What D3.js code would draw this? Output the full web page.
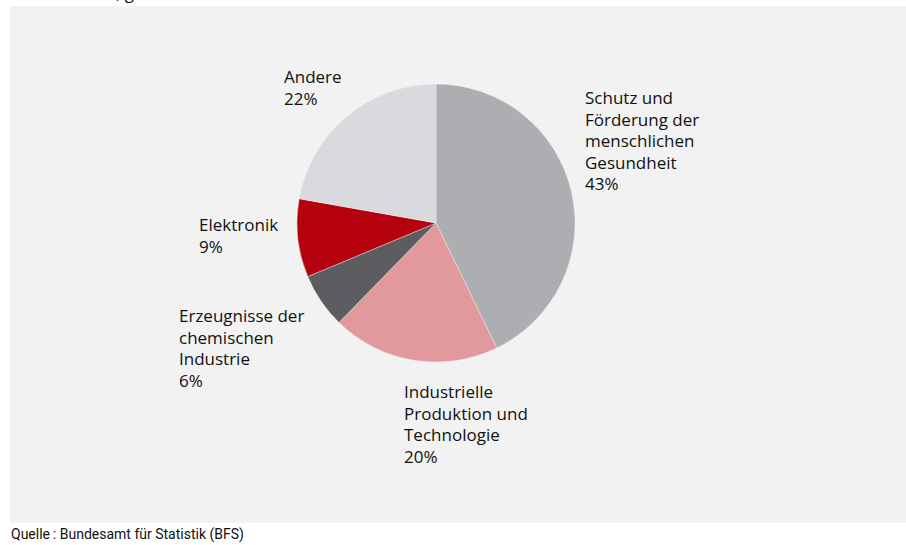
<!DOCTYPE html>
<html>
<head>
<meta charset="utf-8">
<script src="https://cdn.jsdelivr.net/npm/d3@7"></script>
<style>
  body { margin: 0; background: #fff; }
  svg { display: block; }
  .lbl { font-family: "Open Sans", sans-serif; font-size: 17px; fill: #111; }
  .src { font-family: Roboto, sans-serif; font-size: 14px; fill: #111; }
</style>
</head>
<body>
<svg width="906" height="545"></svg>
<script>
// slices, clockwise from 12 o'clock
var categories = ["Schutz und Förderung der menschlichen Gesundheit",
                  "Industrielle Produktion und Technologie",
                  "Erzeugnisse der chemischen Industrie",
                  "Elektronik",
                  "Andere"];
var labelLines = [["Schutz und", "Förderung der", "menschlichen", "Gesundheit"],
                  ["Industrielle", "Produktion und", "Technologie"],
                  ["Erzeugnisse der", "chemischen", "Industrie"],
                  ["Elektronik"],
                  ["Andere"]];
var shares = [42.8, 19.5, 6.4, 9.1, 22.2];
var colours = ["#adaeb1", "#e2999d", "#5d5c61", "#b5000e", "#d9dadd"];

// where each label block starts (left, first baseline)
var labelAt = [[585, 104], [404, 398], [179, 322], [199, 231], [284, 83]];

var svg = d3.select("svg"),
    width = +svg.attr("width"),
    height = +svg.attr("height");

var cx = 436, cy = 223, r = 139;

svg.append("rect")
    .attr("x", 10).attr("y", 6)
    .attr("width", width - 10).attr("height", 517)
    .attr("fill", "#f2f2f2");

// title is cut off at the top of the picture
svg.append("text")
    .attr("class", "lbl")
    .attr("x", 35).attr("y", -1)
    .text("In Prozent, gerundete Werte");

var pie = d3.pie().sort(null).value(function(d) { return d; });
var arc = d3.arc().innerRadius(0).outerRadius(r);

var g = svg.append("g").attr("transform", "translate(" + cx + "," + cy + ")");

g.selectAll("path")
    .data(pie(shares))
    .enter().append("path")
    .attr("d", arc)
    .attr("fill", function(d, i) { return colours[i]; })
    .attr("stroke", "#f2f2f2")
    .attr("stroke-width", 0.4);

var fmt = function(v) { return Math.round(v) + "%"; };

var labels = svg.append("g").selectAll("text")
    .data(shares)
    .enter().append("text")
    .attr("class", "lbl")
    .attr("x", function(d, i) { return labelAt[i][0]; })
    .attr("y", function(d, i) { return labelAt[i][1]; });

labels.each(function(d, i) {
  var t = d3.select(this);
  labelLines[i].concat([fmt(d)]).forEach(function(line, k) {
    t.append("tspan")
        .attr("x", labelAt[i][0])
        .attr("dy", k == 0 ? 0 : 21.6)
        .text(line);
  });
});

svg.append("text")
    .attr("class", "src")
    .attr("x", 11).attr("y", 539)
    .text("Quelle\u2009: Bundesamt für Statistik (BFS)");
</script>
</body>
</html>
